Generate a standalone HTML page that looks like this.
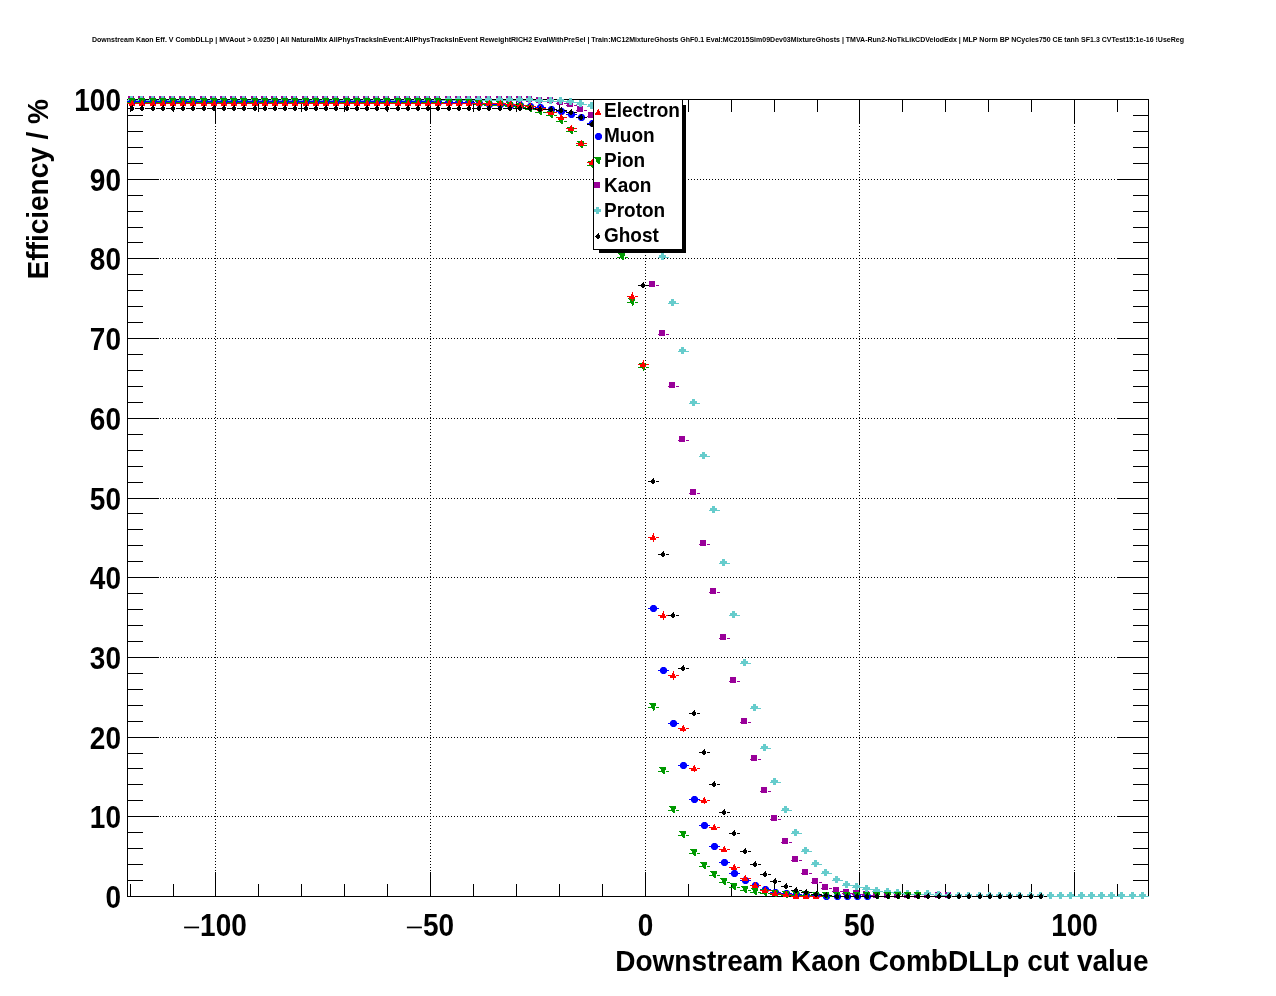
<!DOCTYPE html>
<html><head><meta charset="utf-8"><title>Downstream Kaon Eff</title><style>html,body{margin:0;padding:0;background:#fff;width:1276px;height:996px;overflow:hidden}svg{display:block;will-change:transform}</style></head><body><svg width="1276" height="996" viewBox="0 0 1276 996" font-family="Liberation Sans" font-weight="bold"><rect width="1276" height="996" fill="#fff"/><text x="92" y="42" font-size="6.5" textLength="1092" lengthAdjust="spacingAndGlyphs">Downstream Kaon Eff. V CombDLLp | MVAout &gt; 0.0250 | All NaturalMix AllPhysTracksInEvent:AllPhysTracksInEvent ReweightRICH2 EvalWithPreSel | Train:MC12MixtureGhosts GhF0.1 Eval:MC2015Sim09Dev03MixtureGhosts | TMVA-Run2-NoTkLikCDVelodEdx | MLP Norm BP NCycles750 CE tanh SF1.3 CVTest15:1e-16 !UseReg</text><g stroke="#000" stroke-width="1" stroke-dasharray="1 2" fill="none"><path d="M127,816.5H1148" /><path d="M127,737.5H1148" /><path d="M127,657.5H1148" /><path d="M127,577.5H1148" /><path d="M127,498.5H1148" /><path d="M127,418.5H1148" /><path d="M127,338.5H1148" /><path d="M127,258.5H1148" /><path d="M127,179.5H1148" /><path d="M215.5,99V896" /><path d="M430.5,99V896" /><path d="M645.5,99V896" /><path d="M859.5,99V896" /><path d="M1074.5,99V896" /></g><path stroke="#000" stroke-width="1" fill="none" shape-rendering="crispEdges" d="M127.5,99V897M1148.5,99V897M127,99.5H1149M127,896.5H1149M130.5,897v-13M130.5,99v13M173.5,897v-13M173.5,99v13M215.5,897v-25M215.5,99v25M258.5,897v-13M258.5,99v13M301.5,897v-13M301.5,99v13M344.5,897v-13M344.5,99v13M387.5,897v-13M387.5,99v13M430.5,897v-25M430.5,99v25M473.5,897v-13M473.5,99v13M516.5,897v-13M516.5,99v13M559.5,897v-13M559.5,99v13M602.5,897v-13M602.5,99v13M645.5,897v-25M645.5,99v25M688.5,897v-13M688.5,99v13M731.5,897v-13M731.5,99v13M774.5,897v-13M774.5,99v13M817.5,897v-13M817.5,99v13M859.5,897v-25M859.5,99v25M902.5,897v-13M902.5,99v13M945.5,897v-13M945.5,99v13M988.5,897v-13M988.5,99v13M1031.5,897v-13M1031.5,99v13M1074.5,897v-25M1074.5,99v25M1117.5,897v-13M1117.5,99v13M127,896.5h32M1149,896.5h-32M127,880.5h16M1149,880.5h-16M127,864.5h16M1149,864.5h-16M127,848.5h16M1149,848.5h-16M127,832.5h16M1149,832.5h-16M127,816.5h32M1149,816.5h-32M127,800.5h16M1149,800.5h-16M127,784.5h16M1149,784.5h-16M127,768.5h16M1149,768.5h-16M127,753.5h16M1149,753.5h-16M127,737.5h32M1149,737.5h-32M127,721.5h16M1149,721.5h-16M127,705.5h16M1149,705.5h-16M127,689.5h16M1149,689.5h-16M127,673.5h16M1149,673.5h-16M127,657.5h32M1149,657.5h-32M127,641.5h16M1149,641.5h-16M127,625.5h16M1149,625.5h-16M127,609.5h16M1149,609.5h-16M127,593.5h16M1149,593.5h-16M127,577.5h32M1149,577.5h-32M127,561.5h16M1149,561.5h-16M127,545.5h16M1149,545.5h-16M127,529.5h16M1149,529.5h-16M127,513.5h16M1149,513.5h-16M127,498.5h32M1149,498.5h-32M127,482.5h16M1149,482.5h-16M127,466.5h16M1149,466.5h-16M127,450.5h16M1149,450.5h-16M127,434.5h16M1149,434.5h-16M127,418.5h32M1149,418.5h-32M127,402.5h16M1149,402.5h-16M127,386.5h16M1149,386.5h-16M127,370.5h16M1149,370.5h-16M127,354.5h16M1149,354.5h-16M127,338.5h32M1149,338.5h-32M127,322.5h16M1149,322.5h-16M127,306.5h16M1149,306.5h-16M127,290.5h16M1149,290.5h-16M127,274.5h16M1149,274.5h-16M127,258.5h32M1149,258.5h-32M127,242.5h16M1149,242.5h-16M127,227.5h16M1149,227.5h-16M127,211.5h16M1149,211.5h-16M127,195.5h16M1149,195.5h-16M127,179.5h32M1149,179.5h-32M127,163.5h16M1149,163.5h-16M127,147.5h16M1149,147.5h-16M127,131.5h16M1149,131.5h-16M127,115.5h16M1149,115.5h-16M127,99.5h32M1149,99.5h-32"/><g fill="#990099"><path d="M127,100h3v1h-3ZM135,100h3v1h-3ZM137,100h3v1h-3ZM145,100h3v1h-3ZM148,100h3v1h-3ZM156,100h3v1h-3ZM158,100h3v1h-3ZM166,100h3v1h-3ZM168,100h3v1h-3ZM176,100h3v1h-3ZM178,100h3v1h-3ZM186,100h3v1h-3ZM188,100h3v1h-3ZM196,100h3v1h-3ZM199,100h3v1h-3ZM207,100h3v1h-3ZM209,100h3v1h-3ZM217,100h3v1h-3ZM219,100h3v1h-3ZM227,100h3v1h-3ZM229,100h3v1h-3ZM237,100h3v1h-3ZM239,100h3v1h-3ZM247,100h3v1h-3ZM250,100h3v1h-3ZM258,100h3v1h-3ZM260,100h3v1h-3ZM268,100h3v1h-3ZM270,100h3v1h-3ZM278,100h3v1h-3ZM280,100h3v1h-3ZM288,100h3v1h-3ZM290,100h3v1h-3ZM298,100h3v1h-3ZM301,100h3v1h-3ZM309,100h3v1h-3ZM311,100h3v1h-3ZM319,100h3v1h-3ZM321,100h3v1h-3ZM329,100h3v1h-3ZM331,100h3v1h-3ZM339,100h3v1h-3ZM342,100h3v1h-3ZM350,100h3v1h-3ZM352,100h3v1h-3ZM360,100h3v1h-3ZM362,100h3v1h-3ZM370,100h3v1h-3ZM372,100h3v1h-3ZM380,100h3v1h-3ZM382,100h3v1h-3ZM390,100h3v1h-3ZM393,100h3v1h-3ZM401,100h3v1h-3ZM403,100h3v1h-3ZM411,100h3v1h-3ZM413,100h3v1h-3ZM421,100h3v1h-3ZM423,100h3v1h-3ZM431,100h3v1h-3ZM433,100h3v1h-3ZM441,100h3v1h-3ZM444,100h3v1h-3ZM452,100h3v1h-3ZM454,100h3v1h-3ZM462,100h3v1h-3ZM464,100h3v1h-3ZM472,100h3v1h-3ZM474,100h3v1h-3ZM482,100h3v1h-3ZM484,100h3v1h-3ZM492,100h3v1h-3ZM495,100h3v1h-3ZM503,100h3v1h-3ZM505,100h3v1h-3ZM513,100h3v1h-3ZM515,100h3v1h-3ZM523,100h3v1h-3ZM525,100h3v1h-3ZM533,100h3v1h-3ZM535,101h3v1h-3ZM543,101h3v1h-3ZM546,101h3v1h-3ZM554,101h3v1h-3ZM556,103h3v1h-3ZM564,103h3v1h-3ZM566,105h3v1h-3ZM574,105h3v1h-3ZM576,110h3v1h-3ZM584,110h3v1h-3ZM587,116h3v1h-3ZM595,116h3v1h-3ZM597,125h3v1h-3ZM605,125h3v1h-3ZM607,140h3v1h-3ZM615,140h3v1h-3ZM617,160h3v1h-3ZM625,160h3v1h-3ZM627,185h3v1h-3ZM635,185h3v1h-3ZM638,215h3v1h-3ZM646,215h3v1h-3ZM648,285h3v1h-3ZM656,285h3v1h-3ZM658,334h3v1h-3ZM666,334h3v1h-3ZM668,386h3v1h-3ZM676,386h3v1h-3ZM678,440h3v1h-3ZM686,440h3v1h-3ZM689,493h3v1h-3ZM697,493h3v1h-3ZM699,544h3v1h-3ZM707,544h3v1h-3ZM709,592h3v1h-3ZM717,592h3v1h-3ZM719,638h3v1h-3ZM727,638h3v1h-3ZM729,681h3v1h-3ZM737,681h3v1h-3ZM740,722h3v1h-3ZM748,722h3v1h-3ZM750,759h3v1h-3ZM758,759h3v1h-3ZM760,791h3v1h-3ZM768,791h3v1h-3ZM770,819h3v1h-3ZM778,819h3v1h-3ZM781,842h3v1h-3ZM789,842h3v1h-3ZM791,860h3v1h-3ZM799,860h3v1h-3ZM801,873h3v1h-3ZM809,873h3v1h-3ZM811,882h3v1h-3ZM819,882h3v1h-3ZM821,888h3v1h-3ZM829,888h3v1h-3ZM832,891h3v1h-3ZM840,891h3v1h-3ZM842,893h3v1h-3ZM850,893h3v1h-3ZM852,894h3v1h-3ZM860,894h3v1h-3ZM862,895h3v1h-3ZM870,895h3v1h-3ZM872,896h3v1h-3ZM880,896h3v1h-3ZM883,896h3v1h-3ZM891,896h3v1h-3ZM893,896h3v1h-3ZM901,896h3v1h-3ZM903,896h3v1h-3ZM911,896h3v1h-3ZM913,896h3v1h-3ZM921,896h3v1h-3ZM923,896h3v1h-3ZM931,896h3v1h-3ZM934,896h3v1h-3ZM942,896h3v1h-3ZM944,896h3v1h-3ZM952,896h3v1h-3Z" shape-rendering="crispEdges"/><path d="M128,96h6v6h-6ZM138,96h6v6h-6ZM149,96h6v6h-6ZM159,96h6v6h-6ZM169,96h6v6h-6ZM179,96h6v6h-6ZM189,96h6v6h-6ZM200,96h6v6h-6ZM210,96h6v6h-6ZM220,96h6v6h-6ZM230,96h6v6h-6ZM240,96h6v6h-6ZM251,96h6v6h-6ZM261,96h6v6h-6ZM271,96h6v6h-6ZM281,96h6v6h-6ZM291,96h6v6h-6ZM302,96h6v6h-6ZM312,96h6v6h-6ZM322,96h6v6h-6ZM332,96h6v6h-6ZM343,96h6v6h-6ZM353,96h6v6h-6ZM363,96h6v6h-6ZM373,96h6v6h-6ZM383,96h6v6h-6ZM394,96h6v6h-6ZM404,96h6v6h-6ZM414,96h6v6h-6ZM424,96h6v6h-6ZM434,96h6v6h-6ZM445,96h6v6h-6ZM455,96h6v6h-6ZM465,96h6v6h-6ZM475,96h6v6h-6ZM485,96h6v6h-6ZM496,96h6v6h-6ZM506,96h6v6h-6ZM516,96h6v6h-6ZM526,96h6v6h-6ZM536,97h6v6h-6ZM547,97h6v6h-6ZM557,99h6v6h-6ZM567,101h6v6h-6ZM577,106h6v6h-6ZM588,112h6v6h-6ZM598,121h6v6h-6ZM608,136h6v6h-6ZM618,156h6v6h-6ZM628,181h6v6h-6ZM639,211h6v6h-6ZM649,281h6v6h-6ZM659,330h6v6h-6ZM669,382h6v6h-6ZM679,436h6v6h-6ZM690,489h6v6h-6ZM700,540h6v6h-6ZM710,588h6v6h-6ZM720,634h6v6h-6ZM730,677h6v6h-6ZM741,718h6v6h-6ZM751,755h6v6h-6ZM761,787h6v6h-6ZM771,815h6v6h-6ZM782,838h6v6h-6ZM792,856h6v6h-6ZM802,869h6v6h-6ZM812,878h6v6h-6ZM822,884h6v6h-6ZM833,887h6v6h-6ZM843,889h6v6h-6ZM853,890h6v6h-6ZM863,891h6v6h-6ZM873,892h6v6h-6ZM884,892h6v6h-6ZM894,892h6v6h-6ZM904,892h6v6h-6ZM914,892h6v6h-6ZM924,892h6v6h-6ZM935,892h6v6h-6ZM945,892h6v6h-6Z" shape-rendering="crispEdges"/></g><g fill="#66cccc"><path d="M127,100h3v1h-3ZM135,100h3v1h-3ZM137,100h3v1h-3ZM145,100h3v1h-3ZM148,100h3v1h-3ZM156,100h3v1h-3ZM158,100h3v1h-3ZM166,100h3v1h-3ZM168,100h3v1h-3ZM176,100h3v1h-3ZM178,100h3v1h-3ZM186,100h3v1h-3ZM188,100h3v1h-3ZM196,100h3v1h-3ZM199,100h3v1h-3ZM207,100h3v1h-3ZM209,100h3v1h-3ZM217,100h3v1h-3ZM219,100h3v1h-3ZM227,100h3v1h-3ZM229,100h3v1h-3ZM237,100h3v1h-3ZM239,100h3v1h-3ZM247,100h3v1h-3ZM250,100h3v1h-3ZM258,100h3v1h-3ZM260,100h3v1h-3ZM268,100h3v1h-3ZM270,100h3v1h-3ZM278,100h3v1h-3ZM280,100h3v1h-3ZM288,100h3v1h-3ZM290,100h3v1h-3ZM298,100h3v1h-3ZM301,100h3v1h-3ZM309,100h3v1h-3ZM311,100h3v1h-3ZM319,100h3v1h-3ZM321,100h3v1h-3ZM329,100h3v1h-3ZM331,100h3v1h-3ZM339,100h3v1h-3ZM342,100h3v1h-3ZM350,100h3v1h-3ZM352,100h3v1h-3ZM360,100h3v1h-3ZM362,100h3v1h-3ZM370,100h3v1h-3ZM372,100h3v1h-3ZM380,100h3v1h-3ZM382,100h3v1h-3ZM390,100h3v1h-3ZM393,100h3v1h-3ZM401,100h3v1h-3ZM403,100h3v1h-3ZM411,100h3v1h-3ZM413,100h3v1h-3ZM421,100h3v1h-3ZM423,100h3v1h-3ZM431,100h3v1h-3ZM433,100h3v1h-3ZM441,100h3v1h-3ZM444,100h3v1h-3ZM452,100h3v1h-3ZM454,100h3v1h-3ZM462,100h3v1h-3ZM464,100h3v1h-3ZM472,100h3v1h-3ZM474,100h3v1h-3ZM482,100h3v1h-3ZM484,100h3v1h-3ZM492,100h3v1h-3ZM495,100h3v1h-3ZM503,100h3v1h-3ZM505,100h3v1h-3ZM513,100h3v1h-3ZM515,100h3v1h-3ZM523,100h3v1h-3ZM525,100h3v1h-3ZM533,100h3v1h-3ZM535,101h3v1h-3ZM543,101h3v1h-3ZM546,101h3v1h-3ZM554,101h3v1h-3ZM556,101h3v1h-3ZM564,101h3v1h-3ZM566,102h3v1h-3ZM574,102h3v1h-3ZM576,104h3v1h-3ZM584,104h3v1h-3ZM587,106h3v1h-3ZM595,106h3v1h-3ZM597,110h3v1h-3ZM605,110h3v1h-3ZM607,120h3v1h-3ZM615,120h3v1h-3ZM617,135h3v1h-3ZM625,135h3v1h-3ZM627,155h3v1h-3ZM635,155h3v1h-3ZM638,180h3v1h-3ZM646,180h3v1h-3ZM648,215h3v1h-3ZM656,215h3v1h-3ZM658,257h3v1h-3ZM666,257h3v1h-3ZM668,303h3v1h-3ZM676,303h3v1h-3ZM678,351h3v1h-3ZM686,351h3v1h-3ZM689,403h3v1h-3ZM697,403h3v1h-3ZM699,456h3v1h-3ZM707,456h3v1h-3ZM709,510h3v1h-3ZM717,510h3v1h-3ZM719,563h3v1h-3ZM727,563h3v1h-3ZM729,615h3v1h-3ZM737,615h3v1h-3ZM740,663h3v1h-3ZM748,663h3v1h-3ZM750,708h3v1h-3ZM758,708h3v1h-3ZM760,748h3v1h-3ZM768,748h3v1h-3ZM770,782h3v1h-3ZM778,782h3v1h-3ZM781,810h3v1h-3ZM789,810h3v1h-3ZM791,833h3v1h-3ZM799,833h3v1h-3ZM801,851h3v1h-3ZM809,851h3v1h-3ZM811,864h3v1h-3ZM819,864h3v1h-3ZM821,873h3v1h-3ZM829,873h3v1h-3ZM832,880h3v1h-3ZM840,880h3v1h-3ZM842,885h3v1h-3ZM850,885h3v1h-3ZM852,887h3v1h-3ZM860,887h3v1h-3ZM862,889h3v1h-3ZM870,889h3v1h-3ZM872,891h3v1h-3ZM880,891h3v1h-3ZM883,892h3v1h-3ZM891,892h3v1h-3ZM893,893h3v1h-3ZM901,893h3v1h-3ZM903,894h3v1h-3ZM911,894h3v1h-3ZM913,894h3v1h-3ZM921,894h3v1h-3ZM923,894h3v1h-3ZM931,894h3v1h-3ZM934,895h3v1h-3ZM942,895h3v1h-3ZM944,896h3v1h-3ZM952,896h3v1h-3ZM954,896h3v1h-3ZM962,896h3v1h-3ZM964,896h3v1h-3ZM972,896h3v1h-3ZM975,896h3v1h-3ZM983,896h3v1h-3ZM985,896h3v1h-3ZM993,896h3v1h-3ZM995,896h3v1h-3ZM1003,896h3v1h-3ZM1005,896h3v1h-3ZM1013,896h3v1h-3ZM1015,896h3v1h-3ZM1023,896h3v1h-3ZM1026,896h3v1h-3ZM1034,896h3v1h-3ZM1036,896h3v1h-3ZM1044,896h3v1h-3ZM1046,896h3v1h-3ZM1054,896h3v1h-3ZM1056,896h3v1h-3ZM1064,896h3v1h-3ZM1066,896h3v1h-3ZM1074,896h3v1h-3ZM1077,896h3v1h-3ZM1085,896h3v1h-3ZM1087,896h3v1h-3ZM1095,896h3v1h-3ZM1097,896h3v1h-3ZM1105,896h3v1h-3ZM1107,896h3v1h-3ZM1115,896h3v1h-3ZM1117,896h3v1h-3ZM1125,896h3v1h-3ZM1128,896h3v1h-3ZM1136,896h3v1h-3ZM1138,896h3v1h-3ZM1146,896h3v1h-3Z" shape-rendering="crispEdges"/><path d="M130,96h3v7h-3ZM128,98h7v3h-7ZM140,96h3v7h-3ZM138,98h7v3h-7ZM151,96h3v7h-3ZM149,98h7v3h-7ZM161,96h3v7h-3ZM159,98h7v3h-7ZM171,96h3v7h-3ZM169,98h7v3h-7ZM181,96h3v7h-3ZM179,98h7v3h-7ZM191,96h3v7h-3ZM189,98h7v3h-7ZM202,96h3v7h-3ZM200,98h7v3h-7ZM212,96h3v7h-3ZM210,98h7v3h-7ZM222,96h3v7h-3ZM220,98h7v3h-7ZM232,96h3v7h-3ZM230,98h7v3h-7ZM242,96h3v7h-3ZM240,98h7v3h-7ZM253,96h3v7h-3ZM251,98h7v3h-7ZM263,96h3v7h-3ZM261,98h7v3h-7ZM273,96h3v7h-3ZM271,98h7v3h-7ZM283,96h3v7h-3ZM281,98h7v3h-7ZM293,96h3v7h-3ZM291,98h7v3h-7ZM304,96h3v7h-3ZM302,98h7v3h-7ZM314,96h3v7h-3ZM312,98h7v3h-7ZM324,96h3v7h-3ZM322,98h7v3h-7ZM334,96h3v7h-3ZM332,98h7v3h-7ZM345,96h3v7h-3ZM343,98h7v3h-7ZM355,96h3v7h-3ZM353,98h7v3h-7ZM365,96h3v7h-3ZM363,98h7v3h-7ZM375,96h3v7h-3ZM373,98h7v3h-7ZM385,96h3v7h-3ZM383,98h7v3h-7ZM396,96h3v7h-3ZM394,98h7v3h-7ZM406,96h3v7h-3ZM404,98h7v3h-7ZM416,96h3v7h-3ZM414,98h7v3h-7ZM426,96h3v7h-3ZM424,98h7v3h-7ZM436,96h3v7h-3ZM434,98h7v3h-7ZM447,96h3v7h-3ZM445,98h7v3h-7ZM457,96h3v7h-3ZM455,98h7v3h-7ZM467,96h3v7h-3ZM465,98h7v3h-7ZM477,96h3v7h-3ZM475,98h7v3h-7ZM487,96h3v7h-3ZM485,98h7v3h-7ZM498,96h3v7h-3ZM496,98h7v3h-7ZM508,96h3v7h-3ZM506,98h7v3h-7ZM518,96h3v7h-3ZM516,98h7v3h-7ZM528,96h3v7h-3ZM526,98h7v3h-7ZM538,97h3v7h-3ZM536,99h7v3h-7ZM549,97h3v7h-3ZM547,99h7v3h-7ZM559,97h3v7h-3ZM557,99h7v3h-7ZM569,98h3v7h-3ZM567,100h7v3h-7ZM579,100h3v7h-3ZM577,102h7v3h-7ZM590,102h3v7h-3ZM588,104h7v3h-7ZM600,106h3v7h-3ZM598,108h7v3h-7ZM610,116h3v7h-3ZM608,118h7v3h-7ZM620,131h3v7h-3ZM618,133h7v3h-7ZM630,151h3v7h-3ZM628,153h7v3h-7ZM641,176h3v7h-3ZM639,178h7v3h-7ZM651,211h3v7h-3ZM649,213h7v3h-7ZM661,253h3v7h-3ZM659,255h7v3h-7ZM671,299h3v7h-3ZM669,301h7v3h-7ZM681,347h3v7h-3ZM679,349h7v3h-7ZM692,399h3v7h-3ZM690,401h7v3h-7ZM702,452h3v7h-3ZM700,454h7v3h-7ZM712,506h3v7h-3ZM710,508h7v3h-7ZM722,559h3v7h-3ZM720,561h7v3h-7ZM732,611h3v7h-3ZM730,613h7v3h-7ZM743,659h3v7h-3ZM741,661h7v3h-7ZM753,704h3v7h-3ZM751,706h7v3h-7ZM763,744h3v7h-3ZM761,746h7v3h-7ZM773,778h3v7h-3ZM771,780h7v3h-7ZM784,806h3v7h-3ZM782,808h7v3h-7ZM794,829h3v7h-3ZM792,831h7v3h-7ZM804,847h3v7h-3ZM802,849h7v3h-7ZM814,860h3v7h-3ZM812,862h7v3h-7ZM824,869h3v7h-3ZM822,871h7v3h-7ZM835,876h3v7h-3ZM833,878h7v3h-7ZM845,881h3v7h-3ZM843,883h7v3h-7ZM855,883h3v7h-3ZM853,885h7v3h-7ZM865,885h3v7h-3ZM863,887h7v3h-7ZM875,887h3v7h-3ZM873,889h7v3h-7ZM886,888h3v7h-3ZM884,890h7v3h-7ZM896,889h3v7h-3ZM894,891h7v3h-7ZM906,890h3v7h-3ZM904,892h7v3h-7ZM916,890h3v7h-3ZM914,892h7v3h-7ZM926,890h3v7h-3ZM924,892h7v3h-7ZM937,891h3v7h-3ZM935,893h7v3h-7ZM947,892h3v7h-3ZM945,894h7v3h-7ZM957,892h3v7h-3ZM955,894h7v3h-7ZM967,892h3v7h-3ZM965,894h7v3h-7ZM978,892h3v7h-3ZM976,894h7v3h-7ZM988,892h3v7h-3ZM986,894h7v3h-7ZM998,892h3v7h-3ZM996,894h7v3h-7ZM1008,892h3v7h-3ZM1006,894h7v3h-7ZM1018,892h3v7h-3ZM1016,894h7v3h-7ZM1029,892h3v7h-3ZM1027,894h7v3h-7ZM1039,892h3v7h-3ZM1037,894h7v3h-7ZM1049,892h3v7h-3ZM1047,894h7v3h-7ZM1059,892h3v7h-3ZM1057,894h7v3h-7ZM1069,892h3v7h-3ZM1067,894h7v3h-7ZM1080,892h3v7h-3ZM1078,894h7v3h-7ZM1090,892h3v7h-3ZM1088,894h7v3h-7ZM1100,892h3v7h-3ZM1098,894h7v3h-7ZM1110,892h3v7h-3ZM1108,894h7v3h-7ZM1120,892h3v7h-3ZM1118,894h7v3h-7ZM1131,892h3v7h-3ZM1129,894h7v3h-7ZM1141,892h3v7h-3ZM1139,894h7v3h-7Z" shape-rendering="crispEdges"/></g><g fill="#0000ff"><path d="M127,101h3v1h-3ZM135,101h3v1h-3ZM137,101h3v1h-3ZM145,101h3v1h-3ZM148,101h3v1h-3ZM156,101h3v1h-3ZM158,101h3v1h-3ZM166,101h3v1h-3ZM168,101h3v1h-3ZM176,101h3v1h-3ZM178,101h3v1h-3ZM186,101h3v1h-3ZM188,101h3v1h-3ZM196,101h3v1h-3ZM199,101h3v1h-3ZM207,101h3v1h-3ZM209,101h3v1h-3ZM217,101h3v1h-3ZM219,101h3v1h-3ZM227,101h3v1h-3ZM229,101h3v1h-3ZM237,101h3v1h-3ZM239,101h3v1h-3ZM247,101h3v1h-3ZM250,101h3v1h-3ZM258,101h3v1h-3ZM260,101h3v1h-3ZM268,101h3v1h-3ZM270,101h3v1h-3ZM278,101h3v1h-3ZM280,101h3v1h-3ZM288,101h3v1h-3ZM290,101h3v1h-3ZM298,101h3v1h-3ZM301,101h3v1h-3ZM309,101h3v1h-3ZM311,101h3v1h-3ZM319,101h3v1h-3ZM321,101h3v1h-3ZM329,101h3v1h-3ZM331,101h3v1h-3ZM339,101h3v1h-3ZM342,101h3v1h-3ZM350,101h3v1h-3ZM352,101h3v1h-3ZM360,101h3v1h-3ZM362,101h3v1h-3ZM370,101h3v1h-3ZM372,101h3v1h-3ZM380,101h3v1h-3ZM382,101h3v1h-3ZM390,101h3v1h-3ZM393,101h3v1h-3ZM401,101h3v1h-3ZM403,101h3v1h-3ZM411,101h3v1h-3ZM413,101h3v1h-3ZM421,101h3v1h-3ZM423,101h3v1h-3ZM431,101h3v1h-3ZM433,102h3v1h-3ZM441,102h3v1h-3ZM444,102h3v1h-3ZM452,102h3v1h-3ZM454,102h3v1h-3ZM462,102h3v1h-3ZM464,102h3v1h-3ZM472,102h3v1h-3ZM474,103h3v1h-3ZM482,103h3v1h-3ZM484,104h3v1h-3ZM492,104h3v1h-3ZM495,104h3v1h-3ZM503,104h3v1h-3ZM505,105h3v1h-3ZM513,105h3v1h-3ZM515,105h3v1h-3ZM523,105h3v1h-3ZM525,106h3v1h-3ZM533,106h3v1h-3ZM535,107h3v1h-3ZM543,107h3v1h-3ZM546,109h3v1h-3ZM554,109h3v1h-3ZM556,111h3v1h-3ZM564,111h3v1h-3ZM566,114h3v1h-3ZM574,114h3v1h-3ZM576,117h3v1h-3ZM584,117h3v1h-3ZM587,123h3v1h-3ZM595,123h3v1h-3ZM597,140h3v1h-3ZM605,140h3v1h-3ZM607,160h3v1h-3ZM615,160h3v1h-3ZM617,185h3v1h-3ZM625,185h3v1h-3ZM627,210h3v1h-3ZM635,210h3v1h-3ZM638,235h3v1h-3ZM646,235h3v1h-3ZM648,608h3v1h-3ZM656,608h3v1h-3ZM653,605h1v1h-1ZM653,611h1v1h-1ZM658,670h3v1h-3ZM666,670h3v1h-3ZM663,667h1v1h-1ZM663,673h1v1h-1ZM668,723h3v1h-3ZM676,723h3v1h-3ZM678,765h3v1h-3ZM686,765h3v1h-3ZM689,799h3v1h-3ZM697,799h3v1h-3ZM699,825h3v1h-3ZM707,825h3v1h-3ZM709,846h3v1h-3ZM717,846h3v1h-3ZM719,862h3v1h-3ZM727,862h3v1h-3ZM729,873h3v1h-3ZM737,873h3v1h-3ZM740,880h3v1h-3ZM748,880h3v1h-3ZM750,885h3v1h-3ZM758,885h3v1h-3ZM760,889h3v1h-3ZM768,889h3v1h-3ZM770,892h3v1h-3ZM778,892h3v1h-3ZM781,893h3v1h-3ZM789,893h3v1h-3ZM791,894h3v1h-3ZM799,894h3v1h-3ZM801,895h3v1h-3ZM809,895h3v1h-3ZM811,895h3v1h-3ZM819,895h3v1h-3ZM821,896h3v1h-3ZM829,896h3v1h-3ZM832,896h3v1h-3ZM840,896h3v1h-3ZM842,896h3v1h-3ZM850,896h3v1h-3ZM852,896h3v1h-3ZM860,896h3v1h-3ZM862,896h3v1h-3ZM870,896h3v1h-3Z" shape-rendering="crispEdges"/><path d="M131,98h3l2,2v3l-2,2h-3l-2,-2v-3ZM141,98h3l2,2v3l-2,2h-3l-2,-2v-3ZM152,98h3l2,2v3l-2,2h-3l-2,-2v-3ZM162,98h3l2,2v3l-2,2h-3l-2,-2v-3ZM172,98h3l2,2v3l-2,2h-3l-2,-2v-3ZM182,98h3l2,2v3l-2,2h-3l-2,-2v-3ZM192,98h3l2,2v3l-2,2h-3l-2,-2v-3ZM203,98h3l2,2v3l-2,2h-3l-2,-2v-3ZM213,98h3l2,2v3l-2,2h-3l-2,-2v-3ZM223,98h3l2,2v3l-2,2h-3l-2,-2v-3ZM233,98h3l2,2v3l-2,2h-3l-2,-2v-3ZM243,98h3l2,2v3l-2,2h-3l-2,-2v-3ZM254,98h3l2,2v3l-2,2h-3l-2,-2v-3ZM264,98h3l2,2v3l-2,2h-3l-2,-2v-3ZM274,98h3l2,2v3l-2,2h-3l-2,-2v-3ZM284,98h3l2,2v3l-2,2h-3l-2,-2v-3ZM294,98h3l2,2v3l-2,2h-3l-2,-2v-3ZM305,98h3l2,2v3l-2,2h-3l-2,-2v-3ZM315,98h3l2,2v3l-2,2h-3l-2,-2v-3ZM325,98h3l2,2v3l-2,2h-3l-2,-2v-3ZM335,98h3l2,2v3l-2,2h-3l-2,-2v-3ZM346,98h3l2,2v3l-2,2h-3l-2,-2v-3ZM356,98h3l2,2v3l-2,2h-3l-2,-2v-3ZM366,98h3l2,2v3l-2,2h-3l-2,-2v-3ZM376,98h3l2,2v3l-2,2h-3l-2,-2v-3ZM386,98h3l2,2v3l-2,2h-3l-2,-2v-3ZM397,98h3l2,2v3l-2,2h-3l-2,-2v-3ZM407,98h3l2,2v3l-2,2h-3l-2,-2v-3ZM417,98h3l2,2v3l-2,2h-3l-2,-2v-3ZM427,98h3l2,2v3l-2,2h-3l-2,-2v-3ZM437,99h3l2,2v3l-2,2h-3l-2,-2v-3ZM448,99h3l2,2v3l-2,2h-3l-2,-2v-3ZM458,99h3l2,2v3l-2,2h-3l-2,-2v-3ZM468,99h3l2,2v3l-2,2h-3l-2,-2v-3ZM478,100h3l2,2v3l-2,2h-3l-2,-2v-3ZM488,101h3l2,2v3l-2,2h-3l-2,-2v-3ZM499,101h3l2,2v3l-2,2h-3l-2,-2v-3ZM509,102h3l2,2v3l-2,2h-3l-2,-2v-3ZM519,102h3l2,2v3l-2,2h-3l-2,-2v-3ZM529,103h3l2,2v3l-2,2h-3l-2,-2v-3ZM539,104h3l2,2v3l-2,2h-3l-2,-2v-3ZM550,106h3l2,2v3l-2,2h-3l-2,-2v-3ZM560,108h3l2,2v3l-2,2h-3l-2,-2v-3ZM570,111h3l2,2v3l-2,2h-3l-2,-2v-3ZM580,114h3l2,2v3l-2,2h-3l-2,-2v-3ZM591,120h3l2,2v3l-2,2h-3l-2,-2v-3ZM601,137h3l2,2v3l-2,2h-3l-2,-2v-3ZM611,157h3l2,2v3l-2,2h-3l-2,-2v-3ZM621,182h3l2,2v3l-2,2h-3l-2,-2v-3ZM631,207h3l2,2v3l-2,2h-3l-2,-2v-3ZM642,232h3l2,2v3l-2,2h-3l-2,-2v-3ZM652,605h3l2,2v3l-2,2h-3l-2,-2v-3ZM662,667h3l2,2v3l-2,2h-3l-2,-2v-3ZM672,720h3l2,2v3l-2,2h-3l-2,-2v-3ZM682,762h3l2,2v3l-2,2h-3l-2,-2v-3ZM693,796h3l2,2v3l-2,2h-3l-2,-2v-3ZM703,822h3l2,2v3l-2,2h-3l-2,-2v-3ZM713,843h3l2,2v3l-2,2h-3l-2,-2v-3ZM723,859h3l2,2v3l-2,2h-3l-2,-2v-3ZM733,870h3l2,2v3l-2,2h-3l-2,-2v-3ZM744,877h3l2,2v3l-2,2h-3l-2,-2v-3ZM754,882h3l2,2v3l-2,2h-3l-2,-2v-3ZM764,886h3l2,2v3l-2,2h-3l-2,-2v-3ZM774,889h3l2,2v3l-2,2h-3l-2,-2v-3ZM785,890h3l2,2v3l-2,2h-3l-2,-2v-3ZM795,891h3l2,2v3l-2,2h-3l-2,-2v-3ZM805,892h3l2,2v3l-2,2h-3l-2,-2v-3ZM815,892h3l2,2v3l-2,2h-3l-2,-2v-3ZM825,893h3l2,2v3l-2,2h-3l-2,-2v-3ZM836,893h3l2,2v3l-2,2h-3l-2,-2v-3ZM846,893h3l2,2v3l-2,2h-3l-2,-2v-3ZM856,893h3l2,2v3l-2,2h-3l-2,-2v-3ZM866,893h3l2,2v3l-2,2h-3l-2,-2v-3Z"/></g><g fill="#009900"><path d="M127,102h3v1h-3ZM135,102h3v1h-3ZM137,102h3v1h-3ZM145,102h3v1h-3ZM148,102h3v1h-3ZM156,102h3v1h-3ZM158,102h3v1h-3ZM166,102h3v1h-3ZM168,102h3v1h-3ZM176,102h3v1h-3ZM178,102h3v1h-3ZM186,102h3v1h-3ZM188,102h3v1h-3ZM196,102h3v1h-3ZM199,102h3v1h-3ZM207,102h3v1h-3ZM209,102h3v1h-3ZM217,102h3v1h-3ZM219,102h3v1h-3ZM227,102h3v1h-3ZM229,102h3v1h-3ZM237,102h3v1h-3ZM239,102h3v1h-3ZM247,102h3v1h-3ZM250,102h3v1h-3ZM258,102h3v1h-3ZM260,102h3v1h-3ZM268,102h3v1h-3ZM270,102h3v1h-3ZM278,102h3v1h-3ZM280,102h3v1h-3ZM288,102h3v1h-3ZM290,102h3v1h-3ZM298,102h3v1h-3ZM301,102h3v1h-3ZM309,102h3v1h-3ZM311,102h3v1h-3ZM319,102h3v1h-3ZM321,102h3v1h-3ZM329,102h3v1h-3ZM331,102h3v1h-3ZM339,102h3v1h-3ZM342,102h3v1h-3ZM350,102h3v1h-3ZM352,102h3v1h-3ZM360,102h3v1h-3ZM362,102h3v1h-3ZM370,102h3v1h-3ZM372,102h3v1h-3ZM380,102h3v1h-3ZM382,102h3v1h-3ZM390,102h3v1h-3ZM393,102h3v1h-3ZM401,102h3v1h-3ZM403,102h3v1h-3ZM411,102h3v1h-3ZM413,102h3v1h-3ZM421,102h3v1h-3ZM423,102h3v1h-3ZM431,102h3v1h-3ZM433,102h3v1h-3ZM441,102h3v1h-3ZM444,103h3v1h-3ZM452,103h3v1h-3ZM454,103h3v1h-3ZM462,103h3v1h-3ZM464,103h3v1h-3ZM472,103h3v1h-3ZM474,104h3v1h-3ZM482,104h3v1h-3ZM484,105h3v1h-3ZM492,105h3v1h-3ZM495,105h3v1h-3ZM503,105h3v1h-3ZM505,106h3v1h-3ZM513,106h3v1h-3ZM515,107h3v1h-3ZM523,107h3v1h-3ZM525,109h3v1h-3ZM533,109h3v1h-3ZM535,112h3v1h-3ZM543,112h3v1h-3ZM546,115h3v1h-3ZM554,115h3v1h-3ZM556,121h3v1h-3ZM564,121h3v1h-3ZM566,131h3v1h-3ZM574,131h3v1h-3ZM576,145h3v1h-3ZM584,145h3v1h-3ZM587,165h3v1h-3ZM595,165h3v1h-3ZM597,195h3v1h-3ZM605,195h3v1h-3ZM607,225h3v1h-3ZM615,225h3v1h-3ZM617,257h3v1h-3ZM625,257h3v1h-3ZM627,302h3v1h-3ZM635,302h3v1h-3ZM632,299h1v1h-1ZM632,305h1v1h-1ZM638,367h3v1h-3ZM646,367h3v1h-3ZM643,364h1v1h-1ZM643,370h1v1h-1ZM648,707h3v1h-3ZM656,707h3v1h-3ZM653,704h1v1h-1ZM653,710h1v1h-1ZM658,771h3v1h-3ZM666,771h3v1h-3ZM668,810h3v1h-3ZM676,810h3v1h-3ZM678,835h3v1h-3ZM686,835h3v1h-3ZM689,853h3v1h-3ZM697,853h3v1h-3ZM699,866h3v1h-3ZM707,866h3v1h-3ZM709,875h3v1h-3ZM717,875h3v1h-3ZM719,882h3v1h-3ZM727,882h3v1h-3ZM729,887h3v1h-3ZM737,887h3v1h-3ZM740,890h3v1h-3ZM748,890h3v1h-3ZM750,892h3v1h-3ZM758,892h3v1h-3ZM760,893h3v1h-3ZM768,893h3v1h-3ZM770,894h3v1h-3ZM778,894h3v1h-3ZM781,895h3v1h-3ZM789,895h3v1h-3ZM791,895h3v1h-3ZM799,895h3v1h-3ZM801,895h3v1h-3ZM809,895h3v1h-3ZM811,896h3v1h-3ZM819,896h3v1h-3ZM821,896h3v1h-3ZM829,896h3v1h-3ZM832,896h3v1h-3ZM840,896h3v1h-3ZM842,896h3v1h-3ZM850,896h3v1h-3ZM852,896h3v1h-3ZM860,896h3v1h-3ZM862,896h3v1h-3ZM870,896h3v1h-3ZM872,896h3v1h-3ZM880,896h3v1h-3ZM883,896h3v1h-3ZM891,896h3v1h-3ZM893,896h3v1h-3ZM901,896h3v1h-3ZM903,896h3v1h-3ZM911,896h3v1h-3ZM913,896h3v1h-3ZM921,896h3v1h-3Z" shape-rendering="crispEdges"/><path d="M128,98h7v1h-7ZM129,99h6v1h-6ZM130,100h5v1h-5ZM130,101h4v2h-4ZM131,103h3v1h-3ZM132,104h2v1h-2ZM138,98h7v1h-7ZM139,99h6v1h-6ZM140,100h5v1h-5ZM140,101h4v2h-4ZM141,103h3v1h-3ZM142,104h2v1h-2ZM149,98h7v1h-7ZM150,99h6v1h-6ZM151,100h5v1h-5ZM151,101h4v2h-4ZM152,103h3v1h-3ZM153,104h2v1h-2ZM159,98h7v1h-7ZM160,99h6v1h-6ZM161,100h5v1h-5ZM161,101h4v2h-4ZM162,103h3v1h-3ZM163,104h2v1h-2ZM169,98h7v1h-7ZM170,99h6v1h-6ZM171,100h5v1h-5ZM171,101h4v2h-4ZM172,103h3v1h-3ZM173,104h2v1h-2ZM179,98h7v1h-7ZM180,99h6v1h-6ZM181,100h5v1h-5ZM181,101h4v2h-4ZM182,103h3v1h-3ZM183,104h2v1h-2ZM189,98h7v1h-7ZM190,99h6v1h-6ZM191,100h5v1h-5ZM191,101h4v2h-4ZM192,103h3v1h-3ZM193,104h2v1h-2ZM200,98h7v1h-7ZM201,99h6v1h-6ZM202,100h5v1h-5ZM202,101h4v2h-4ZM203,103h3v1h-3ZM204,104h2v1h-2ZM210,98h7v1h-7ZM211,99h6v1h-6ZM212,100h5v1h-5ZM212,101h4v2h-4ZM213,103h3v1h-3ZM214,104h2v1h-2ZM220,98h7v1h-7ZM221,99h6v1h-6ZM222,100h5v1h-5ZM222,101h4v2h-4ZM223,103h3v1h-3ZM224,104h2v1h-2ZM230,98h7v1h-7ZM231,99h6v1h-6ZM232,100h5v1h-5ZM232,101h4v2h-4ZM233,103h3v1h-3ZM234,104h2v1h-2ZM240,98h7v1h-7ZM241,99h6v1h-6ZM242,100h5v1h-5ZM242,101h4v2h-4ZM243,103h3v1h-3ZM244,104h2v1h-2ZM251,98h7v1h-7ZM252,99h6v1h-6ZM253,100h5v1h-5ZM253,101h4v2h-4ZM254,103h3v1h-3ZM255,104h2v1h-2ZM261,98h7v1h-7ZM262,99h6v1h-6ZM263,100h5v1h-5ZM263,101h4v2h-4ZM264,103h3v1h-3ZM265,104h2v1h-2ZM271,98h7v1h-7ZM272,99h6v1h-6ZM273,100h5v1h-5ZM273,101h4v2h-4ZM274,103h3v1h-3ZM275,104h2v1h-2ZM281,98h7v1h-7ZM282,99h6v1h-6ZM283,100h5v1h-5ZM283,101h4v2h-4ZM284,103h3v1h-3ZM285,104h2v1h-2ZM291,98h7v1h-7ZM292,99h6v1h-6ZM293,100h5v1h-5ZM293,101h4v2h-4ZM294,103h3v1h-3ZM295,104h2v1h-2ZM302,98h7v1h-7ZM303,99h6v1h-6ZM304,100h5v1h-5ZM304,101h4v2h-4ZM305,103h3v1h-3ZM306,104h2v1h-2ZM312,98h7v1h-7ZM313,99h6v1h-6ZM314,100h5v1h-5ZM314,101h4v2h-4ZM315,103h3v1h-3ZM316,104h2v1h-2ZM322,98h7v1h-7ZM323,99h6v1h-6ZM324,100h5v1h-5ZM324,101h4v2h-4ZM325,103h3v1h-3ZM326,104h2v1h-2ZM332,98h7v1h-7ZM333,99h6v1h-6ZM334,100h5v1h-5ZM334,101h4v2h-4ZM335,103h3v1h-3ZM336,104h2v1h-2ZM343,98h7v1h-7ZM344,99h6v1h-6ZM345,100h5v1h-5ZM345,101h4v2h-4ZM346,103h3v1h-3ZM347,104h2v1h-2ZM353,98h7v1h-7ZM354,99h6v1h-6ZM355,100h5v1h-5ZM355,101h4v2h-4ZM356,103h3v1h-3ZM357,104h2v1h-2ZM363,98h7v1h-7ZM364,99h6v1h-6ZM365,100h5v1h-5ZM365,101h4v2h-4ZM366,103h3v1h-3ZM367,104h2v1h-2ZM373,98h7v1h-7ZM374,99h6v1h-6ZM375,100h5v1h-5ZM375,101h4v2h-4ZM376,103h3v1h-3ZM377,104h2v1h-2ZM383,98h7v1h-7ZM384,99h6v1h-6ZM385,100h5v1h-5ZM385,101h4v2h-4ZM386,103h3v1h-3ZM387,104h2v1h-2ZM394,98h7v1h-7ZM395,99h6v1h-6ZM396,100h5v1h-5ZM396,101h4v2h-4ZM397,103h3v1h-3ZM398,104h2v1h-2ZM404,98h7v1h-7ZM405,99h6v1h-6ZM406,100h5v1h-5ZM406,101h4v2h-4ZM407,103h3v1h-3ZM408,104h2v1h-2ZM414,98h7v1h-7ZM415,99h6v1h-6ZM416,100h5v1h-5ZM416,101h4v2h-4ZM417,103h3v1h-3ZM418,104h2v1h-2ZM424,98h7v1h-7ZM425,99h6v1h-6ZM426,100h5v1h-5ZM426,101h4v2h-4ZM427,103h3v1h-3ZM428,104h2v1h-2ZM434,98h7v1h-7ZM435,99h6v1h-6ZM436,100h5v1h-5ZM436,101h4v2h-4ZM437,103h3v1h-3ZM438,104h2v1h-2ZM445,99h7v1h-7ZM446,100h6v1h-6ZM447,101h5v1h-5ZM447,102h4v2h-4ZM448,104h3v1h-3ZM449,105h2v1h-2ZM455,99h7v1h-7ZM456,100h6v1h-6ZM457,101h5v1h-5ZM457,102h4v2h-4ZM458,104h3v1h-3ZM459,105h2v1h-2ZM465,99h7v1h-7ZM466,100h6v1h-6ZM467,101h5v1h-5ZM467,102h4v2h-4ZM468,104h3v1h-3ZM469,105h2v1h-2ZM475,100h7v1h-7ZM476,101h6v1h-6ZM477,102h5v1h-5ZM477,103h4v2h-4ZM478,105h3v1h-3ZM479,106h2v1h-2ZM485,101h7v1h-7ZM486,102h6v1h-6ZM487,103h5v1h-5ZM487,104h4v2h-4ZM488,106h3v1h-3ZM489,107h2v1h-2ZM496,101h7v1h-7ZM497,102h6v1h-6ZM498,103h5v1h-5ZM498,104h4v2h-4ZM499,106h3v1h-3ZM500,107h2v1h-2ZM506,102h7v1h-7ZM507,103h6v1h-6ZM508,104h5v1h-5ZM508,105h4v2h-4ZM509,107h3v1h-3ZM510,108h2v1h-2ZM516,103h7v1h-7ZM517,104h6v1h-6ZM518,105h5v1h-5ZM518,106h4v2h-4ZM519,108h3v1h-3ZM520,109h2v1h-2ZM526,105h7v1h-7ZM527,106h6v1h-6ZM528,107h5v1h-5ZM528,108h4v2h-4ZM529,110h3v1h-3ZM530,111h2v1h-2ZM536,108h7v1h-7ZM537,109h6v1h-6ZM538,110h5v1h-5ZM538,111h4v2h-4ZM539,113h3v1h-3ZM540,114h2v1h-2ZM547,111h7v1h-7ZM548,112h6v1h-6ZM549,113h5v1h-5ZM549,114h4v2h-4ZM550,116h3v1h-3ZM551,117h2v1h-2ZM557,117h7v1h-7ZM558,118h6v1h-6ZM559,119h5v1h-5ZM559,120h4v2h-4ZM560,122h3v1h-3ZM561,123h2v1h-2ZM567,127h7v1h-7ZM568,128h6v1h-6ZM569,129h5v1h-5ZM569,130h4v2h-4ZM570,132h3v1h-3ZM571,133h2v1h-2ZM577,141h7v1h-7ZM578,142h6v1h-6ZM579,143h5v1h-5ZM579,144h4v2h-4ZM580,146h3v1h-3ZM581,147h2v1h-2ZM588,161h7v1h-7ZM589,162h6v1h-6ZM590,163h5v1h-5ZM590,164h4v2h-4ZM591,166h3v1h-3ZM592,167h2v1h-2ZM598,191h7v1h-7ZM599,192h6v1h-6ZM600,193h5v1h-5ZM600,194h4v2h-4ZM601,196h3v1h-3ZM602,197h2v1h-2ZM608,221h7v1h-7ZM609,222h6v1h-6ZM610,223h5v1h-5ZM610,224h4v2h-4ZM611,226h3v1h-3ZM612,227h2v1h-2ZM618,253h7v1h-7ZM619,254h6v1h-6ZM620,255h5v1h-5ZM620,256h4v2h-4ZM621,258h3v1h-3ZM622,259h2v1h-2ZM628,298h7v1h-7ZM629,299h6v1h-6ZM630,300h5v1h-5ZM630,301h4v2h-4ZM631,303h3v1h-3ZM632,304h2v1h-2ZM639,363h7v1h-7ZM640,364h6v1h-6ZM641,365h5v1h-5ZM641,366h4v2h-4ZM642,368h3v1h-3ZM643,369h2v1h-2ZM649,703h7v1h-7ZM650,704h6v1h-6ZM651,705h5v1h-5ZM651,706h4v2h-4ZM652,708h3v1h-3ZM653,709h2v1h-2ZM659,767h7v1h-7ZM660,768h6v1h-6ZM661,769h5v1h-5ZM661,770h4v2h-4ZM662,772h3v1h-3ZM663,773h2v1h-2ZM669,806h7v1h-7ZM670,807h6v1h-6ZM671,808h5v1h-5ZM671,809h4v2h-4ZM672,811h3v1h-3ZM673,812h2v1h-2ZM679,831h7v1h-7ZM680,832h6v1h-6ZM681,833h5v1h-5ZM681,834h4v2h-4ZM682,836h3v1h-3ZM683,837h2v1h-2ZM690,849h7v1h-7ZM691,850h6v1h-6ZM692,851h5v1h-5ZM692,852h4v2h-4ZM693,854h3v1h-3ZM694,855h2v1h-2ZM700,862h7v1h-7ZM701,863h6v1h-6ZM702,864h5v1h-5ZM702,865h4v2h-4ZM703,867h3v1h-3ZM704,868h2v1h-2ZM710,871h7v1h-7ZM711,872h6v1h-6ZM712,873h5v1h-5ZM712,874h4v2h-4ZM713,876h3v1h-3ZM714,877h2v1h-2ZM720,878h7v1h-7ZM721,879h6v1h-6ZM722,880h5v1h-5ZM722,881h4v2h-4ZM723,883h3v1h-3ZM724,884h2v1h-2ZM730,883h7v1h-7ZM731,884h6v1h-6ZM732,885h5v1h-5ZM732,886h4v2h-4ZM733,888h3v1h-3ZM734,889h2v1h-2ZM741,886h7v1h-7ZM742,887h6v1h-6ZM743,888h5v1h-5ZM743,889h4v2h-4ZM744,891h3v1h-3ZM745,892h2v1h-2ZM751,888h7v1h-7ZM752,889h6v1h-6ZM753,890h5v1h-5ZM753,891h4v2h-4ZM754,893h3v1h-3ZM755,894h2v1h-2ZM761,889h7v1h-7ZM762,890h6v1h-6ZM763,891h5v1h-5ZM763,892h4v2h-4ZM764,894h3v1h-3ZM765,895h2v1h-2ZM771,890h7v1h-7ZM772,891h6v1h-6ZM773,892h5v1h-5ZM773,893h4v2h-4ZM774,895h3v1h-3ZM775,896h2v1h-2ZM782,891h7v1h-7ZM783,892h6v1h-6ZM784,893h5v1h-5ZM784,894h4v2h-4ZM785,896h3v1h-3ZM786,897h2v1h-2ZM792,891h7v1h-7ZM793,892h6v1h-6ZM794,893h5v1h-5ZM794,894h4v2h-4ZM795,896h3v1h-3ZM796,897h2v1h-2ZM802,891h7v1h-7ZM803,892h6v1h-6ZM804,893h5v1h-5ZM804,894h4v2h-4ZM805,896h3v1h-3ZM806,897h2v1h-2ZM812,892h7v1h-7ZM813,893h6v1h-6ZM814,894h5v1h-5ZM814,895h4v2h-4ZM815,897h3v1h-3ZM816,898h2v1h-2ZM822,892h7v1h-7ZM823,893h6v1h-6ZM824,894h5v1h-5ZM824,895h4v2h-4ZM825,897h3v1h-3ZM826,898h2v1h-2ZM833,892h7v1h-7ZM834,893h6v1h-6ZM835,894h5v1h-5ZM835,895h4v2h-4ZM836,897h3v1h-3ZM837,898h2v1h-2ZM843,892h7v1h-7ZM844,893h6v1h-6ZM845,894h5v1h-5ZM845,895h4v2h-4ZM846,897h3v1h-3ZM847,898h2v1h-2ZM853,892h7v1h-7ZM854,893h6v1h-6ZM855,894h5v1h-5ZM855,895h4v2h-4ZM856,897h3v1h-3ZM857,898h2v1h-2ZM863,892h7v1h-7ZM864,893h6v1h-6ZM865,894h5v1h-5ZM865,895h4v2h-4ZM866,897h3v1h-3ZM867,898h2v1h-2ZM873,892h7v1h-7ZM874,893h6v1h-6ZM875,894h5v1h-5ZM875,895h4v2h-4ZM876,897h3v1h-3ZM877,898h2v1h-2ZM884,892h7v1h-7ZM885,893h6v1h-6ZM886,894h5v1h-5ZM886,895h4v2h-4ZM887,897h3v1h-3ZM888,898h2v1h-2ZM894,892h7v1h-7ZM895,893h6v1h-6ZM896,894h5v1h-5ZM896,895h4v2h-4ZM897,897h3v1h-3ZM898,898h2v1h-2ZM904,892h7v1h-7ZM905,893h6v1h-6ZM906,894h5v1h-5ZM906,895h4v2h-4ZM907,897h3v1h-3ZM908,898h2v1h-2ZM914,892h7v1h-7ZM915,893h6v1h-6ZM916,894h5v1h-5ZM916,895h4v2h-4ZM917,897h3v1h-3ZM918,898h2v1h-2Z" shape-rendering="crispEdges"/></g><g fill="#ff0000"><path d="M127,103h3v1h-3ZM135,103h3v1h-3ZM137,103h3v1h-3ZM145,103h3v1h-3ZM148,103h3v1h-3ZM156,103h3v1h-3ZM158,103h3v1h-3ZM166,103h3v1h-3ZM168,103h3v1h-3ZM176,103h3v1h-3ZM178,103h3v1h-3ZM186,103h3v1h-3ZM188,103h3v1h-3ZM196,103h3v1h-3ZM199,103h3v1h-3ZM207,103h3v1h-3ZM209,103h3v1h-3ZM217,103h3v1h-3ZM219,103h3v1h-3ZM227,103h3v1h-3ZM229,103h3v1h-3ZM237,103h3v1h-3ZM239,103h3v1h-3ZM247,103h3v1h-3ZM250,103h3v1h-3ZM258,103h3v1h-3ZM260,103h3v1h-3ZM268,103h3v1h-3ZM270,103h3v1h-3ZM278,103h3v1h-3ZM280,103h3v1h-3ZM288,103h3v1h-3ZM290,103h3v1h-3ZM298,103h3v1h-3ZM301,103h3v1h-3ZM309,103h3v1h-3ZM311,103h3v1h-3ZM319,103h3v1h-3ZM321,103h3v1h-3ZM329,103h3v1h-3ZM331,103h3v1h-3ZM339,103h3v1h-3ZM342,103h3v1h-3ZM350,103h3v1h-3ZM352,103h3v1h-3ZM360,103h3v1h-3ZM362,103h3v1h-3ZM370,103h3v1h-3ZM372,103h3v1h-3ZM380,103h3v1h-3ZM382,103h3v1h-3ZM390,103h3v1h-3ZM393,103h3v1h-3ZM401,103h3v1h-3ZM403,103h3v1h-3ZM411,103h3v1h-3ZM413,103h3v1h-3ZM421,103h3v1h-3ZM423,103h3v1h-3ZM431,103h3v1h-3ZM433,103h3v1h-3ZM441,103h3v1h-3ZM444,103h3v1h-3ZM452,103h3v1h-3ZM454,103h3v1h-3ZM462,103h3v1h-3ZM464,103h3v1h-3ZM472,103h3v1h-3ZM474,103h3v1h-3ZM482,103h3v1h-3ZM484,103h3v1h-3ZM492,103h3v1h-3ZM495,103h3v1h-3ZM503,103h3v1h-3ZM505,104h3v1h-3ZM513,104h3v1h-3ZM515,105h3v1h-3ZM523,105h3v1h-3ZM525,106h3v1h-3ZM533,106h3v1h-3ZM535,108h3v1h-3ZM543,108h3v1h-3ZM546,112h3v1h-3ZM554,112h3v1h-3ZM556,117h3v1h-3ZM564,117h3v1h-3ZM566,128h3v1h-3ZM574,128h3v1h-3ZM576,143h3v1h-3ZM584,143h3v1h-3ZM587,162h3v1h-3ZM595,162h3v1h-3ZM597,185h3v1h-3ZM605,185h3v1h-3ZM602,182h1v1h-1ZM602,188h1v1h-1ZM607,212h3v1h-3ZM615,212h3v1h-3ZM612,209h1v1h-1ZM612,215h1v1h-1ZM617,243h3v1h-3ZM625,243h3v1h-3ZM622,240h1v1h-1ZM622,246h1v1h-1ZM627,296h3v1h-3ZM635,296h3v1h-3ZM632,292h1v2h-1ZM632,299h1v2h-1ZM638,364h3v1h-3ZM646,364h3v1h-3ZM643,360h1v2h-1ZM643,367h1v2h-1ZM648,537h3v1h-3ZM656,537h3v1h-3ZM653,533h1v2h-1ZM653,540h1v2h-1ZM658,615h3v1h-3ZM666,615h3v1h-3ZM663,611h1v2h-1ZM663,618h1v2h-1ZM668,675h3v1h-3ZM676,675h3v1h-3ZM673,671h1v2h-1ZM673,678h1v2h-1ZM678,728h3v1h-3ZM686,728h3v1h-3ZM683,725h1v1h-1ZM683,731h1v1h-1ZM689,768h3v1h-3ZM697,768h3v1h-3ZM694,765h1v1h-1ZM694,771h1v1h-1ZM699,800h3v1h-3ZM707,800h3v1h-3ZM704,797h1v1h-1ZM704,803h1v1h-1ZM709,827h3v1h-3ZM717,827h3v1h-3ZM719,849h3v1h-3ZM727,849h3v1h-3ZM729,867h3v1h-3ZM737,867h3v1h-3ZM740,878h3v1h-3ZM748,878h3v1h-3ZM750,885h3v1h-3ZM758,885h3v1h-3ZM760,890h3v1h-3ZM768,890h3v1h-3ZM770,893h3v1h-3ZM778,893h3v1h-3ZM781,894h3v1h-3ZM789,894h3v1h-3ZM791,896h3v1h-3ZM799,896h3v1h-3ZM801,896h3v1h-3ZM809,896h3v1h-3ZM811,896h3v1h-3ZM819,896h3v1h-3Z" shape-rendering="crispEdges"/><path d="M132,100h1v1h-1ZM131,101h2v1h-2ZM131,102h3v1h-3ZM130,103h4v1h-4ZM129,104h6v2h-6ZM142,100h1v1h-1ZM141,101h2v1h-2ZM141,102h3v1h-3ZM140,103h4v1h-4ZM139,104h6v2h-6ZM153,100h1v1h-1ZM152,101h2v1h-2ZM152,102h3v1h-3ZM151,103h4v1h-4ZM150,104h6v2h-6ZM163,100h1v1h-1ZM162,101h2v1h-2ZM162,102h3v1h-3ZM161,103h4v1h-4ZM160,104h6v2h-6ZM173,100h1v1h-1ZM172,101h2v1h-2ZM172,102h3v1h-3ZM171,103h4v1h-4ZM170,104h6v2h-6ZM183,100h1v1h-1ZM182,101h2v1h-2ZM182,102h3v1h-3ZM181,103h4v1h-4ZM180,104h6v2h-6ZM193,100h1v1h-1ZM192,101h2v1h-2ZM192,102h3v1h-3ZM191,103h4v1h-4ZM190,104h6v2h-6ZM204,100h1v1h-1ZM203,101h2v1h-2ZM203,102h3v1h-3ZM202,103h4v1h-4ZM201,104h6v2h-6ZM214,100h1v1h-1ZM213,101h2v1h-2ZM213,102h3v1h-3ZM212,103h4v1h-4ZM211,104h6v2h-6ZM224,100h1v1h-1ZM223,101h2v1h-2ZM223,102h3v1h-3ZM222,103h4v1h-4ZM221,104h6v2h-6ZM234,100h1v1h-1ZM233,101h2v1h-2ZM233,102h3v1h-3ZM232,103h4v1h-4ZM231,104h6v2h-6ZM244,100h1v1h-1ZM243,101h2v1h-2ZM243,102h3v1h-3ZM242,103h4v1h-4ZM241,104h6v2h-6ZM255,100h1v1h-1ZM254,101h2v1h-2ZM254,102h3v1h-3ZM253,103h4v1h-4ZM252,104h6v2h-6ZM265,100h1v1h-1ZM264,101h2v1h-2ZM264,102h3v1h-3ZM263,103h4v1h-4ZM262,104h6v2h-6ZM275,100h1v1h-1ZM274,101h2v1h-2ZM274,102h3v1h-3ZM273,103h4v1h-4ZM272,104h6v2h-6ZM285,100h1v1h-1ZM284,101h2v1h-2ZM284,102h3v1h-3ZM283,103h4v1h-4ZM282,104h6v2h-6ZM295,100h1v1h-1ZM294,101h2v1h-2ZM294,102h3v1h-3ZM293,103h4v1h-4ZM292,104h6v2h-6ZM306,100h1v1h-1ZM305,101h2v1h-2ZM305,102h3v1h-3ZM304,103h4v1h-4ZM303,104h6v2h-6ZM316,100h1v1h-1ZM315,101h2v1h-2ZM315,102h3v1h-3ZM314,103h4v1h-4ZM313,104h6v2h-6ZM326,100h1v1h-1ZM325,101h2v1h-2ZM325,102h3v1h-3ZM324,103h4v1h-4ZM323,104h6v2h-6ZM336,100h1v1h-1ZM335,101h2v1h-2ZM335,102h3v1h-3ZM334,103h4v1h-4ZM333,104h6v2h-6ZM347,100h1v1h-1ZM346,101h2v1h-2ZM346,102h3v1h-3ZM345,103h4v1h-4ZM344,104h6v2h-6ZM357,100h1v1h-1ZM356,101h2v1h-2ZM356,102h3v1h-3ZM355,103h4v1h-4ZM354,104h6v2h-6ZM367,100h1v1h-1ZM366,101h2v1h-2ZM366,102h3v1h-3ZM365,103h4v1h-4ZM364,104h6v2h-6ZM377,100h1v1h-1ZM376,101h2v1h-2ZM376,102h3v1h-3ZM375,103h4v1h-4ZM374,104h6v2h-6ZM387,100h1v1h-1ZM386,101h2v1h-2ZM386,102h3v1h-3ZM385,103h4v1h-4ZM384,104h6v2h-6ZM398,100h1v1h-1ZM397,101h2v1h-2ZM397,102h3v1h-3ZM396,103h4v1h-4ZM395,104h6v2h-6ZM408,100h1v1h-1ZM407,101h2v1h-2ZM407,102h3v1h-3ZM406,103h4v1h-4ZM405,104h6v2h-6ZM418,100h1v1h-1ZM417,101h2v1h-2ZM417,102h3v1h-3ZM416,103h4v1h-4ZM415,104h6v2h-6ZM428,100h1v1h-1ZM427,101h2v1h-2ZM427,102h3v1h-3ZM426,103h4v1h-4ZM425,104h6v2h-6ZM438,100h1v1h-1ZM437,101h2v1h-2ZM437,102h3v1h-3ZM436,103h4v1h-4ZM435,104h6v2h-6ZM449,100h1v1h-1ZM448,101h2v1h-2ZM448,102h3v1h-3ZM447,103h4v1h-4ZM446,104h6v2h-6ZM459,100h1v1h-1ZM458,101h2v1h-2ZM458,102h3v1h-3ZM457,103h4v1h-4ZM456,104h6v2h-6ZM469,100h1v1h-1ZM468,101h2v1h-2ZM468,102h3v1h-3ZM467,103h4v1h-4ZM466,104h6v2h-6ZM479,100h1v1h-1ZM478,101h2v1h-2ZM478,102h3v1h-3ZM477,103h4v1h-4ZM476,104h6v2h-6ZM489,100h1v1h-1ZM488,101h2v1h-2ZM488,102h3v1h-3ZM487,103h4v1h-4ZM486,104h6v2h-6ZM500,100h1v1h-1ZM499,101h2v1h-2ZM499,102h3v1h-3ZM498,103h4v1h-4ZM497,104h6v2h-6ZM510,101h1v1h-1ZM509,102h2v1h-2ZM509,103h3v1h-3ZM508,104h4v1h-4ZM507,105h6v2h-6ZM520,102h1v1h-1ZM519,103h2v1h-2ZM519,104h3v1h-3ZM518,105h4v1h-4ZM517,106h6v2h-6ZM530,103h1v1h-1ZM529,104h2v1h-2ZM529,105h3v1h-3ZM528,106h4v1h-4ZM527,107h6v2h-6ZM540,105h1v1h-1ZM539,106h2v1h-2ZM539,107h3v1h-3ZM538,108h4v1h-4ZM537,109h6v2h-6ZM551,109h1v1h-1ZM550,110h2v1h-2ZM550,111h3v1h-3ZM549,112h4v1h-4ZM548,113h6v2h-6ZM561,114h1v1h-1ZM560,115h2v1h-2ZM560,116h3v1h-3ZM559,117h4v1h-4ZM558,118h6v2h-6ZM571,125h1v1h-1ZM570,126h2v1h-2ZM570,127h3v1h-3ZM569,128h4v1h-4ZM568,129h6v2h-6ZM581,140h1v1h-1ZM580,141h2v1h-2ZM580,142h3v1h-3ZM579,143h4v1h-4ZM578,144h6v2h-6ZM592,159h1v1h-1ZM591,160h2v1h-2ZM591,161h3v1h-3ZM590,162h4v1h-4ZM589,163h6v2h-6ZM602,182h1v1h-1ZM601,183h2v1h-2ZM601,184h3v1h-3ZM600,185h4v1h-4ZM599,186h6v2h-6ZM612,209h1v1h-1ZM611,210h2v1h-2ZM611,211h3v1h-3ZM610,212h4v1h-4ZM609,213h6v2h-6ZM622,240h1v1h-1ZM621,241h2v1h-2ZM621,242h3v1h-3ZM620,243h4v1h-4ZM619,244h6v2h-6ZM632,293h1v1h-1ZM631,294h2v1h-2ZM631,295h3v1h-3ZM630,296h4v1h-4ZM629,297h6v2h-6ZM643,361h1v1h-1ZM642,362h2v1h-2ZM642,363h3v1h-3ZM641,364h4v1h-4ZM640,365h6v2h-6ZM653,534h1v1h-1ZM652,535h2v1h-2ZM652,536h3v1h-3ZM651,537h4v1h-4ZM650,538h6v2h-6ZM663,612h1v1h-1ZM662,613h2v1h-2ZM662,614h3v1h-3ZM661,615h4v1h-4ZM660,616h6v2h-6ZM673,672h1v1h-1ZM672,673h2v1h-2ZM672,674h3v1h-3ZM671,675h4v1h-4ZM670,676h6v2h-6ZM683,725h1v1h-1ZM682,726h2v1h-2ZM682,727h3v1h-3ZM681,728h4v1h-4ZM680,729h6v2h-6ZM694,765h1v1h-1ZM693,766h2v1h-2ZM693,767h3v1h-3ZM692,768h4v1h-4ZM691,769h6v2h-6ZM704,797h1v1h-1ZM703,798h2v1h-2ZM703,799h3v1h-3ZM702,800h4v1h-4ZM701,801h6v2h-6ZM714,824h1v1h-1ZM713,825h2v1h-2ZM713,826h3v1h-3ZM712,827h4v1h-4ZM711,828h6v2h-6ZM724,846h1v1h-1ZM723,847h2v1h-2ZM723,848h3v1h-3ZM722,849h4v1h-4ZM721,850h6v2h-6ZM734,864h1v1h-1ZM733,865h2v1h-2ZM733,866h3v1h-3ZM732,867h4v1h-4ZM731,868h6v2h-6ZM745,875h1v1h-1ZM744,876h2v1h-2ZM744,877h3v1h-3ZM743,878h4v1h-4ZM742,879h6v2h-6ZM755,882h1v1h-1ZM754,883h2v1h-2ZM754,884h3v1h-3ZM753,885h4v1h-4ZM752,886h6v2h-6ZM765,887h1v1h-1ZM764,888h2v1h-2ZM764,889h3v1h-3ZM763,890h4v1h-4ZM762,891h6v2h-6ZM775,890h1v1h-1ZM774,891h2v1h-2ZM774,892h3v1h-3ZM773,893h4v1h-4ZM772,894h6v2h-6ZM786,891h1v1h-1ZM785,892h2v1h-2ZM785,893h3v1h-3ZM784,894h4v1h-4ZM783,895h6v2h-6ZM796,893h1v1h-1ZM795,894h2v1h-2ZM795,895h3v1h-3ZM794,896h4v1h-4ZM793,897h6v2h-6ZM806,893h1v1h-1ZM805,894h2v1h-2ZM805,895h3v1h-3ZM804,896h4v1h-4ZM803,897h6v2h-6ZM816,893h1v1h-1ZM815,894h2v1h-2ZM815,895h3v1h-3ZM814,896h4v1h-4ZM813,897h6v2h-6Z" shape-rendering="crispEdges"/></g><g fill="#000000"><path d="M127,108h3v1h-3ZM135,108h3v1h-3ZM137,108h3v1h-3ZM145,108h3v1h-3ZM148,108h3v1h-3ZM156,108h3v1h-3ZM158,108h3v1h-3ZM166,108h3v1h-3ZM168,108h3v1h-3ZM176,108h3v1h-3ZM178,108h3v1h-3ZM186,108h3v1h-3ZM188,108h3v1h-3ZM196,108h3v1h-3ZM199,108h3v1h-3ZM207,108h3v1h-3ZM209,108h3v1h-3ZM217,108h3v1h-3ZM219,108h3v1h-3ZM227,108h3v1h-3ZM229,108h3v1h-3ZM237,108h3v1h-3ZM239,108h3v1h-3ZM247,108h3v1h-3ZM250,108h3v1h-3ZM258,108h3v1h-3ZM260,108h3v1h-3ZM268,108h3v1h-3ZM270,108h3v1h-3ZM278,108h3v1h-3ZM280,108h3v1h-3ZM288,108h3v1h-3ZM290,108h3v1h-3ZM298,108h3v1h-3ZM301,108h3v1h-3ZM309,108h3v1h-3ZM311,108h3v1h-3ZM319,108h3v1h-3ZM321,108h3v1h-3ZM329,108h3v1h-3ZM331,108h3v1h-3ZM339,108h3v1h-3ZM342,108h3v1h-3ZM350,108h3v1h-3ZM352,108h3v1h-3ZM360,108h3v1h-3ZM362,108h3v1h-3ZM370,108h3v1h-3ZM372,108h3v1h-3ZM380,108h3v1h-3ZM382,108h3v1h-3ZM390,108h3v1h-3ZM393,108h3v1h-3ZM401,108h3v1h-3ZM403,108h3v1h-3ZM411,108h3v1h-3ZM413,108h3v1h-3ZM421,108h3v1h-3ZM423,108h3v1h-3ZM431,108h3v1h-3ZM433,108h3v1h-3ZM441,108h3v1h-3ZM444,108h3v1h-3ZM452,108h3v1h-3ZM454,108h3v1h-3ZM462,108h3v1h-3ZM464,108h3v1h-3ZM472,108h3v1h-3ZM474,108h3v1h-3ZM482,108h3v1h-3ZM484,108h3v1h-3ZM492,108h3v1h-3ZM495,108h3v1h-3ZM503,108h3v1h-3ZM505,108h3v1h-3ZM513,108h3v1h-3ZM515,108h3v1h-3ZM523,108h3v1h-3ZM525,108h3v1h-3ZM533,108h3v1h-3ZM535,109h3v1h-3ZM543,109h3v1h-3ZM546,109h3v1h-3ZM554,109h3v1h-3ZM556,110h3v1h-3ZM564,110h3v1h-3ZM566,112h3v1h-3ZM574,112h3v1h-3ZM576,117h3v1h-3ZM584,117h3v1h-3ZM587,124h3v1h-3ZM595,124h3v1h-3ZM597,135h3v1h-3ZM605,135h3v1h-3ZM607,150h3v1h-3ZM615,150h3v1h-3ZM617,170h3v1h-3ZM625,170h3v1h-3ZM627,200h3v1h-3ZM635,200h3v1h-3ZM638,285h3v1h-3ZM646,285h3v1h-3ZM648,481h3v1h-3ZM656,481h3v1h-3ZM658,554h3v1h-3ZM666,554h3v1h-3ZM668,615h3v1h-3ZM676,615h3v1h-3ZM678,668h3v1h-3ZM686,668h3v1h-3ZM689,713h3v1h-3ZM697,713h3v1h-3ZM699,752h3v1h-3ZM707,752h3v1h-3ZM709,784h3v1h-3ZM717,784h3v1h-3ZM719,812h3v1h-3ZM727,812h3v1h-3ZM729,833h3v1h-3ZM737,833h3v1h-3ZM740,851h3v1h-3ZM748,851h3v1h-3ZM750,864h3v1h-3ZM758,864h3v1h-3ZM760,874h3v1h-3ZM768,874h3v1h-3ZM770,881h3v1h-3ZM778,881h3v1h-3ZM781,886h3v1h-3ZM789,886h3v1h-3ZM791,890h3v1h-3ZM799,890h3v1h-3ZM801,892h3v1h-3ZM809,892h3v1h-3ZM811,894h3v1h-3ZM819,894h3v1h-3ZM821,895h3v1h-3ZM829,895h3v1h-3ZM832,896h3v1h-3ZM840,896h3v1h-3ZM842,896h3v1h-3ZM850,896h3v1h-3ZM852,896h3v1h-3ZM860,896h3v1h-3ZM862,896h3v1h-3ZM870,896h3v1h-3ZM872,896h3v1h-3ZM880,896h3v1h-3ZM883,896h3v1h-3ZM891,896h3v1h-3ZM893,896h3v1h-3ZM901,896h3v1h-3ZM903,896h3v1h-3ZM911,896h3v1h-3ZM913,896h3v1h-3ZM921,896h3v1h-3ZM923,896h3v1h-3ZM931,896h3v1h-3ZM934,896h3v1h-3ZM942,896h3v1h-3ZM944,896h3v1h-3ZM952,896h3v1h-3ZM954,896h3v1h-3ZM962,896h3v1h-3ZM964,896h3v1h-3ZM972,896h3v1h-3ZM975,896h3v1h-3ZM983,896h3v1h-3ZM985,896h3v1h-3ZM993,896h3v1h-3ZM995,896h3v1h-3ZM1003,896h3v1h-3ZM1005,896h3v1h-3ZM1013,896h3v1h-3ZM1015,896h3v1h-3ZM1023,896h3v1h-3ZM1026,896h3v1h-3ZM1034,896h3v1h-3ZM1036,896h3v1h-3ZM1044,896h3v1h-3Z" shape-rendering="crispEdges"/><path d="M132,105h1v1h-1ZM131,106h2v1h-2ZM130,107h4v3h-4ZM131,110h2v1h-2ZM142,105h1v1h-1ZM141,106h2v1h-2ZM140,107h4v3h-4ZM141,110h2v1h-2ZM153,105h1v1h-1ZM152,106h2v1h-2ZM151,107h4v3h-4ZM152,110h2v1h-2ZM163,105h1v1h-1ZM162,106h2v1h-2ZM161,107h4v3h-4ZM162,110h2v1h-2ZM173,105h1v1h-1ZM172,106h2v1h-2ZM171,107h4v3h-4ZM172,110h2v1h-2ZM183,105h1v1h-1ZM182,106h2v1h-2ZM181,107h4v3h-4ZM182,110h2v1h-2ZM193,105h1v1h-1ZM192,106h2v1h-2ZM191,107h4v3h-4ZM192,110h2v1h-2ZM204,105h1v1h-1ZM203,106h2v1h-2ZM202,107h4v3h-4ZM203,110h2v1h-2ZM214,105h1v1h-1ZM213,106h2v1h-2ZM212,107h4v3h-4ZM213,110h2v1h-2ZM224,105h1v1h-1ZM223,106h2v1h-2ZM222,107h4v3h-4ZM223,110h2v1h-2ZM234,105h1v1h-1ZM233,106h2v1h-2ZM232,107h4v3h-4ZM233,110h2v1h-2ZM244,105h1v1h-1ZM243,106h2v1h-2ZM242,107h4v3h-4ZM243,110h2v1h-2ZM255,105h1v1h-1ZM254,106h2v1h-2ZM253,107h4v3h-4ZM254,110h2v1h-2ZM265,105h1v1h-1ZM264,106h2v1h-2ZM263,107h4v3h-4ZM264,110h2v1h-2ZM275,105h1v1h-1ZM274,106h2v1h-2ZM273,107h4v3h-4ZM274,110h2v1h-2ZM285,105h1v1h-1ZM284,106h2v1h-2ZM283,107h4v3h-4ZM284,110h2v1h-2ZM295,105h1v1h-1ZM294,106h2v1h-2ZM293,107h4v3h-4ZM294,110h2v1h-2ZM306,105h1v1h-1ZM305,106h2v1h-2ZM304,107h4v3h-4ZM305,110h2v1h-2ZM316,105h1v1h-1ZM315,106h2v1h-2ZM314,107h4v3h-4ZM315,110h2v1h-2ZM326,105h1v1h-1ZM325,106h2v1h-2ZM324,107h4v3h-4ZM325,110h2v1h-2ZM336,105h1v1h-1ZM335,106h2v1h-2ZM334,107h4v3h-4ZM335,110h2v1h-2ZM347,105h1v1h-1ZM346,106h2v1h-2ZM345,107h4v3h-4ZM346,110h2v1h-2ZM357,105h1v1h-1ZM356,106h2v1h-2ZM355,107h4v3h-4ZM356,110h2v1h-2ZM367,105h1v1h-1ZM366,106h2v1h-2ZM365,107h4v3h-4ZM366,110h2v1h-2ZM377,105h1v1h-1ZM376,106h2v1h-2ZM375,107h4v3h-4ZM376,110h2v1h-2ZM387,105h1v1h-1ZM386,106h2v1h-2ZM385,107h4v3h-4ZM386,110h2v1h-2ZM398,105h1v1h-1ZM397,106h2v1h-2ZM396,107h4v3h-4ZM397,110h2v1h-2ZM408,105h1v1h-1ZM407,106h2v1h-2ZM406,107h4v3h-4ZM407,110h2v1h-2ZM418,105h1v1h-1ZM417,106h2v1h-2ZM416,107h4v3h-4ZM417,110h2v1h-2ZM428,105h1v1h-1ZM427,106h2v1h-2ZM426,107h4v3h-4ZM427,110h2v1h-2ZM438,105h1v1h-1ZM437,106h2v1h-2ZM436,107h4v3h-4ZM437,110h2v1h-2ZM449,105h1v1h-1ZM448,106h2v1h-2ZM447,107h4v3h-4ZM448,110h2v1h-2ZM459,105h1v1h-1ZM458,106h2v1h-2ZM457,107h4v3h-4ZM458,110h2v1h-2ZM469,105h1v1h-1ZM468,106h2v1h-2ZM467,107h4v3h-4ZM468,110h2v1h-2ZM479,105h1v1h-1ZM478,106h2v1h-2ZM477,107h4v3h-4ZM478,110h2v1h-2ZM489,105h1v1h-1ZM488,106h2v1h-2ZM487,107h4v3h-4ZM488,110h2v1h-2ZM500,105h1v1h-1ZM499,106h2v1h-2ZM498,107h4v3h-4ZM499,110h2v1h-2ZM510,105h1v1h-1ZM509,106h2v1h-2ZM508,107h4v3h-4ZM509,110h2v1h-2ZM520,105h1v1h-1ZM519,106h2v1h-2ZM518,107h4v3h-4ZM519,110h2v1h-2ZM530,105h1v1h-1ZM529,106h2v1h-2ZM528,107h4v3h-4ZM529,110h2v1h-2ZM540,106h1v1h-1ZM539,107h2v1h-2ZM538,108h4v3h-4ZM539,111h2v1h-2ZM551,106h1v1h-1ZM550,107h2v1h-2ZM549,108h4v3h-4ZM550,111h2v1h-2ZM561,107h1v1h-1ZM560,108h2v1h-2ZM559,109h4v3h-4ZM560,112h2v1h-2ZM571,109h1v1h-1ZM570,110h2v1h-2ZM569,111h4v3h-4ZM570,114h2v1h-2ZM581,114h1v1h-1ZM580,115h2v1h-2ZM579,116h4v3h-4ZM580,119h2v1h-2ZM592,121h1v1h-1ZM591,122h2v1h-2ZM590,123h4v3h-4ZM591,126h2v1h-2ZM602,132h1v1h-1ZM601,133h2v1h-2ZM600,134h4v3h-4ZM601,137h2v1h-2ZM612,147h1v1h-1ZM611,148h2v1h-2ZM610,149h4v3h-4ZM611,152h2v1h-2ZM622,167h1v1h-1ZM621,168h2v1h-2ZM620,169h4v3h-4ZM621,172h2v1h-2ZM632,197h1v1h-1ZM631,198h2v1h-2ZM630,199h4v3h-4ZM631,202h2v1h-2ZM643,282h1v1h-1ZM642,283h2v1h-2ZM641,284h4v3h-4ZM642,287h2v1h-2ZM653,478h1v1h-1ZM652,479h2v1h-2ZM651,480h4v3h-4ZM652,483h2v1h-2ZM663,551h1v1h-1ZM662,552h2v1h-2ZM661,553h4v3h-4ZM662,556h2v1h-2ZM673,612h1v1h-1ZM672,613h2v1h-2ZM671,614h4v3h-4ZM672,617h2v1h-2ZM683,665h1v1h-1ZM682,666h2v1h-2ZM681,667h4v3h-4ZM682,670h2v1h-2ZM694,710h1v1h-1ZM693,711h2v1h-2ZM692,712h4v3h-4ZM693,715h2v1h-2ZM704,749h1v1h-1ZM703,750h2v1h-2ZM702,751h4v3h-4ZM703,754h2v1h-2ZM714,781h1v1h-1ZM713,782h2v1h-2ZM712,783h4v3h-4ZM713,786h2v1h-2ZM724,809h1v1h-1ZM723,810h2v1h-2ZM722,811h4v3h-4ZM723,814h2v1h-2ZM734,830h1v1h-1ZM733,831h2v1h-2ZM732,832h4v3h-4ZM733,835h2v1h-2ZM745,848h1v1h-1ZM744,849h2v1h-2ZM743,850h4v3h-4ZM744,853h2v1h-2ZM755,861h1v1h-1ZM754,862h2v1h-2ZM753,863h4v3h-4ZM754,866h2v1h-2ZM765,871h1v1h-1ZM764,872h2v1h-2ZM763,873h4v3h-4ZM764,876h2v1h-2ZM775,878h1v1h-1ZM774,879h2v1h-2ZM773,880h4v3h-4ZM774,883h2v1h-2ZM786,883h1v1h-1ZM785,884h2v1h-2ZM784,885h4v3h-4ZM785,888h2v1h-2ZM796,887h1v1h-1ZM795,888h2v1h-2ZM794,889h4v3h-4ZM795,892h2v1h-2ZM806,889h1v1h-1ZM805,890h2v1h-2ZM804,891h4v3h-4ZM805,894h2v1h-2ZM816,891h1v1h-1ZM815,892h2v1h-2ZM814,893h4v3h-4ZM815,896h2v1h-2ZM826,892h1v1h-1ZM825,893h2v1h-2ZM824,894h4v3h-4ZM825,897h2v1h-2ZM837,893h1v1h-1ZM836,894h2v1h-2ZM835,895h4v3h-4ZM836,898h2v1h-2ZM847,893h1v1h-1ZM846,894h2v1h-2ZM845,895h4v3h-4ZM846,898h2v1h-2ZM857,893h1v1h-1ZM856,894h2v1h-2ZM855,895h4v3h-4ZM856,898h2v1h-2ZM867,893h1v1h-1ZM866,894h2v1h-2ZM865,895h4v3h-4ZM866,898h2v1h-2ZM877,893h1v1h-1ZM876,894h2v1h-2ZM875,895h4v3h-4ZM876,898h2v1h-2ZM888,893h1v1h-1ZM887,894h2v1h-2ZM886,895h4v3h-4ZM887,898h2v1h-2ZM898,893h1v1h-1ZM897,894h2v1h-2ZM896,895h4v3h-4ZM897,898h2v1h-2ZM908,893h1v1h-1ZM907,894h2v1h-2ZM906,895h4v3h-4ZM907,898h2v1h-2ZM918,893h1v1h-1ZM917,894h2v1h-2ZM916,895h4v3h-4ZM917,898h2v1h-2ZM928,893h1v1h-1ZM927,894h2v1h-2ZM926,895h4v3h-4ZM927,898h2v1h-2ZM939,893h1v1h-1ZM938,894h2v1h-2ZM937,895h4v3h-4ZM938,898h2v1h-2ZM949,893h1v1h-1ZM948,894h2v1h-2ZM947,895h4v3h-4ZM948,898h2v1h-2ZM959,893h1v1h-1ZM958,894h2v1h-2ZM957,895h4v3h-4ZM958,898h2v1h-2ZM969,893h1v1h-1ZM968,894h2v1h-2ZM967,895h4v3h-4ZM968,898h2v1h-2ZM980,893h1v1h-1ZM979,894h2v1h-2ZM978,895h4v3h-4ZM979,898h2v1h-2ZM990,893h1v1h-1ZM989,894h2v1h-2ZM988,895h4v3h-4ZM989,898h2v1h-2ZM1000,893h1v1h-1ZM999,894h2v1h-2ZM998,895h4v3h-4ZM999,898h2v1h-2ZM1010,893h1v1h-1ZM1009,894h2v1h-2ZM1008,895h4v3h-4ZM1009,898h2v1h-2ZM1020,893h1v1h-1ZM1019,894h2v1h-2ZM1018,895h4v3h-4ZM1019,898h2v1h-2ZM1031,893h1v1h-1ZM1030,894h2v1h-2ZM1029,895h4v3h-4ZM1030,898h2v1h-2ZM1041,893h1v1h-1ZM1040,894h2v1h-2ZM1039,895h4v3h-4ZM1040,898h2v1h-2Z" shape-rendering="crispEdges"/></g><text transform="translate(121,908) scale(1,1.12)" text-anchor="end" font-size="28">0</text><text transform="translate(121,828) scale(1,1.12)" text-anchor="end" font-size="28">10</text><text transform="translate(121,749) scale(1,1.12)" text-anchor="end" font-size="28">20</text><text transform="translate(121,669) scale(1,1.12)" text-anchor="end" font-size="28">30</text><text transform="translate(121,589) scale(1,1.12)" text-anchor="end" font-size="28">40</text><text transform="translate(121,510) scale(1,1.12)" text-anchor="end" font-size="28">50</text><text transform="translate(121,430) scale(1,1.12)" text-anchor="end" font-size="28">60</text><text transform="translate(121,350) scale(1,1.12)" text-anchor="end" font-size="28">70</text><text transform="translate(121,270) scale(1,1.12)" text-anchor="end" font-size="28">80</text><text transform="translate(121,191) scale(1,1.12)" text-anchor="end" font-size="28">90</text><text transform="translate(121,111) scale(1,1.12)" text-anchor="end" font-size="28">100</text><rect x="184.1" y="926.6" width="15" height="1.7" fill="#000"/><text transform="translate(200.1,936) scale(1,1.12)" text-anchor="start" font-size="28">100</text><rect x="406.9" y="926.6" width="15" height="1.7" fill="#000"/><text transform="translate(422.9,936) scale(1,1.12)" text-anchor="start" font-size="28">50</text><text transform="translate(645.5,936) scale(1,1.12)" text-anchor="middle" font-size="28">0</text><text transform="translate(859.5,936) scale(1,1.12)" text-anchor="middle" font-size="28">50</text><text transform="translate(1074.5,936) scale(1,1.12)" text-anchor="middle" font-size="28">100</text><text transform="translate(1148.5,971) scale(1,1.04)" text-anchor="end" font-size="28">Downstream Kaon CombDLLp cut value</text><text transform="translate(47.5,99) rotate(-90) scale(1,1.04)" text-anchor="end" font-size="28">Efficiency / %</text><path d="M683,105h3v148h-87v-3h84Z" fill="#000"/><rect x="593.5" y="99.5" width="89" height="150" fill="#fff" stroke="#000" stroke-width="1"/><path d="M598,109h1v1h-1ZM597,110h2v1h-2ZM597,111h3v1h-3ZM596,112h4v1h-4ZM595,113h6v2h-6Z" fill="#ff0000" shape-rendering="crispEdges"/><text transform="translate(604,117) scale(1,1.05)" text-anchor="start" font-size="19">Electron</text><path d="M597,133h3l2,2v3l-2,2h-3l-2,-2v-3Z" fill="#0000ff"/><text transform="translate(604,142) scale(1,1.05)" text-anchor="start" font-size="19">Muon</text><path d="M594,157h7v1h-7ZM595,158h6v1h-6ZM596,159h5v1h-5ZM596,160h4v2h-4ZM597,162h3v1h-3ZM598,163h2v1h-2Z" fill="#009900" shape-rendering="crispEdges"/><text transform="translate(604,167) scale(1,1.05)" text-anchor="start" font-size="19">Pion</text><path d="M594,182h6v6h-6Z" fill="#990099" shape-rendering="crispEdges"/><text transform="translate(604,192) scale(1,1.05)" text-anchor="start" font-size="19">Kaon</text><path d="M596,207h3v7h-3ZM594,209h7v3h-7Z" fill="#66cccc" shape-rendering="crispEdges"/><text transform="translate(604,217) scale(1,1.05)" text-anchor="start" font-size="19">Proton</text><path d="M598,233h1v1h-1ZM597,234h2v1h-2ZM596,235h4v3h-4ZM595,236h1v1h-1ZM597,238h2v1h-2Z" fill="#000000" shape-rendering="crispEdges"/><text transform="translate(604,242) scale(1,1.05)" text-anchor="start" font-size="19">Ghost</text></svg></body></html>
